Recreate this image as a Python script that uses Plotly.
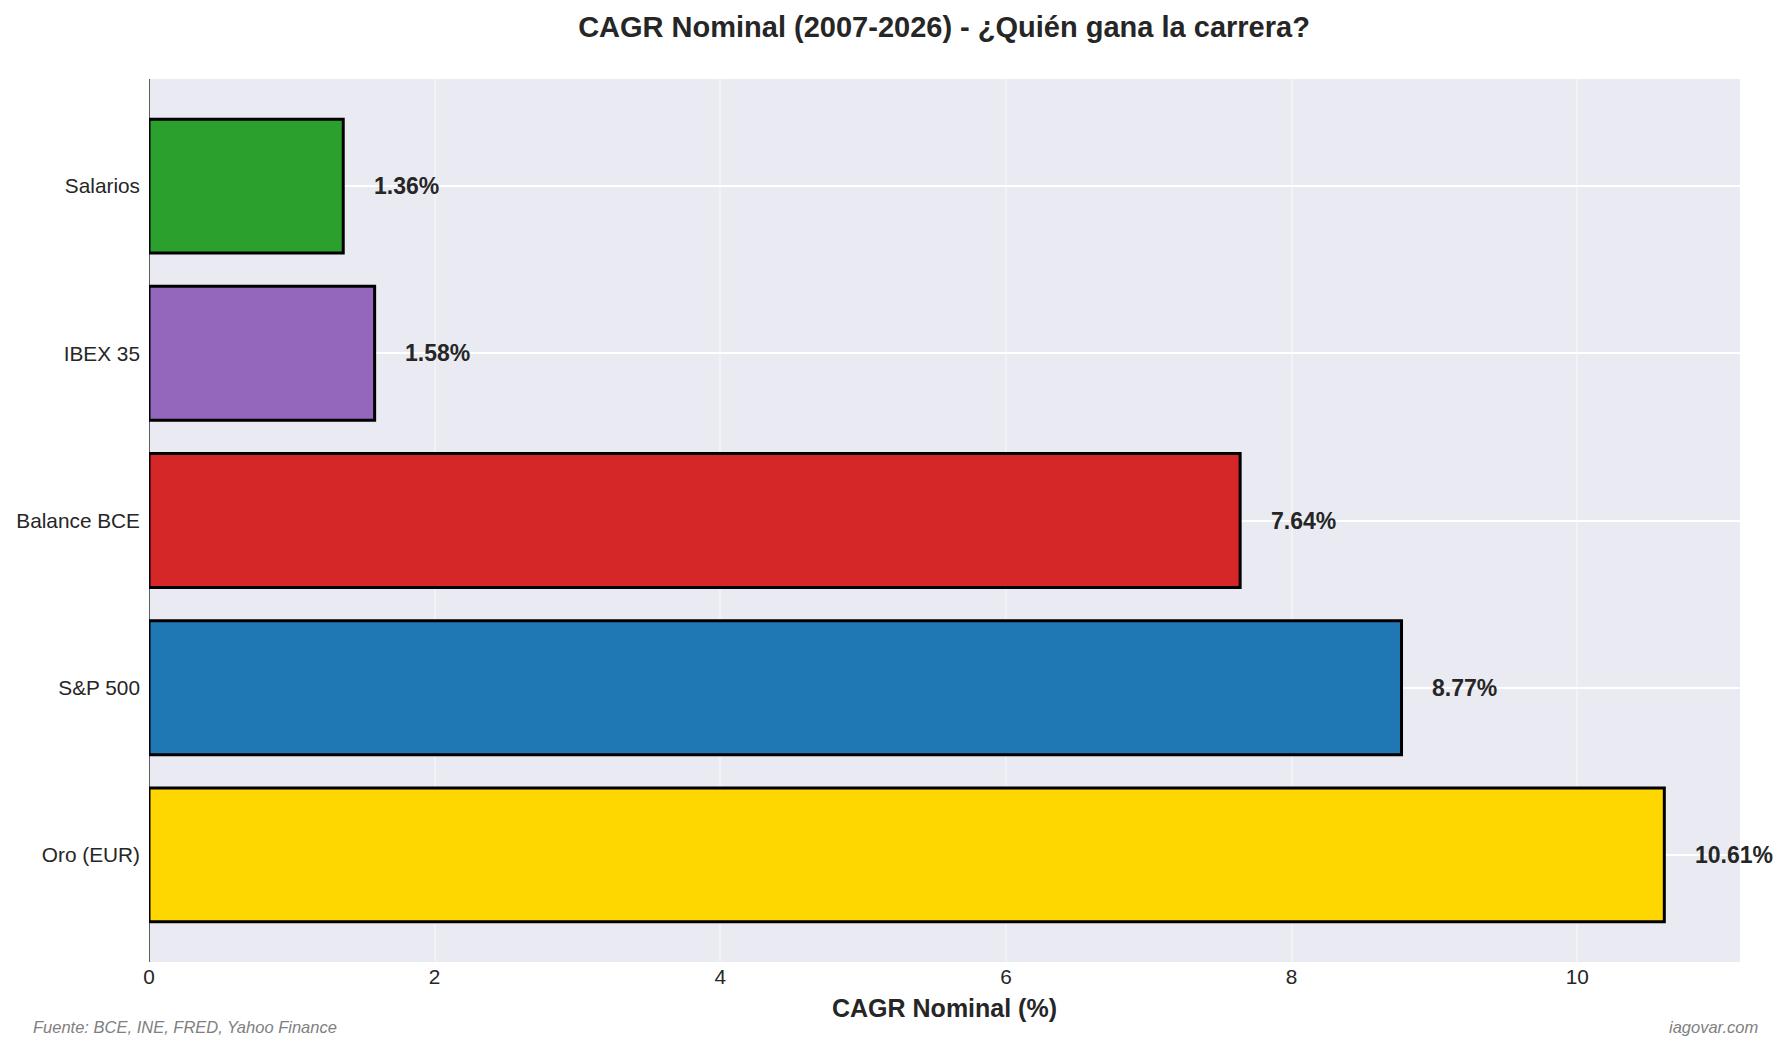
import plotly.graph_objects as go

categories = ["Oro (EUR)", "S&P 500", "Balance BCE", "IBEX 35", "Salarios"]
cagr_values = [10.61, 8.77, 7.64, 1.58, 1.36]
bar_colors = ["#FFD700", "#1f77b4", "#d62728", "#9467bd", "#2ca02c"]
x_ticks = [0, 2, 4, 6, 8, 10]

FONT = "Liberation Sans, Arial, sans-serif"
TXT = "#262626"

W, H = 1786, 1052
ml, mr, mt, mb = 149, 46, 79, 90
pw, ph = W - ml - mr, H - mt - mb


def px_to_paper(xp, yp):
    return (xp - ml) / pw, (H - mb - yp) / ph


fig = go.Figure()
fig.add_trace(go.Bar(
    x=cagr_values, y=categories, orientation="h",
    width=0.8,
    marker=dict(color=bar_colors, line=dict(color="black", width=3)),
    hoverinfo="skip",
))

annotations = []
for cat, v in zip(categories, cagr_values):
    annotations.append(dict(
        x=v + 0.2, y=cat, xref="x", yref="y",
        text=f"<b>{v:.2f}%</b>", showarrow=False,
        xanchor="left", yanchor="middle",
        font=dict(family=FONT, size=23, color=TXT),
    ))

fx, fy = px_to_paper(31, 1027)
annotations.append(dict(
    x=fx, y=fy, xref="paper", yref="paper",
    text="<i>Fuente: BCE, INE, FRED, Yahoo Finance</i>",
    showarrow=False, xanchor="left", yanchor="middle",
    font=dict(family=FONT, size=16.5, color="#808080"),
))
rx, ry = px_to_paper(1760, 1027)
annotations.append(dict(
    x=rx, y=ry, xref="paper", yref="paper", text="<i>iagovar.com</i>",
    showarrow=False, xanchor="right", yanchor="middle",
    font=dict(family=FONT, size=16.5, color="#808080"),
))
tx, ty = px_to_paper(944, 27)

fig.update_layout(
    width=W, height=H, autosize=False,
    margin=dict(l=ml, r=mr, t=mt, b=mb),
    paper_bgcolor="white", plot_bgcolor="#EAEAF2",
    showlegend=False,
    annotations=annotations,
    title=dict(
        text="<b>CAGR Nominal (2007-2026) - ¿Quién gana la carrera?</b>",
        x=tx, xref="paper", y=1 - 27 / H, yref="container",
        xanchor="center", yanchor="middle",
        font=dict(family=FONT, size=29, color=TXT),
    ),
    xaxis=dict(
        range=[0, 11.14], tickvals=x_ticks, ticktext=[str(t) for t in x_ticks],
        showgrid=True, gridcolor="rgba(255,255,255,0.35)", gridwidth=2,
        zeroline=False, showline=False, ticks="",
        tickfont=dict(family=FONT, size=20.8, color=TXT),
        title=dict(text="<b>CAGR Nominal (%)</b>", standoff=12,
                   font=dict(family=FONT, size=25, color=TXT)),
    ),
    yaxis=dict(
        range=[-0.64, 4.64], categoryorder="array", categoryarray=categories,
        showgrid=True, gridcolor="white", gridwidth=2,
        zeroline=False, showline=False, ticks="",
        ticklabelstandoff=8,
        tickfont=dict(family=FONT, size=20.8, color=TXT),
    ),
    shapes=[dict(type="line", xref="x", yref="paper", x0=0, x1=0, y0=0, y1=1,
                 line=dict(color="black", width=1.2), layer="above")],
)

fig.write_html("out.html")
